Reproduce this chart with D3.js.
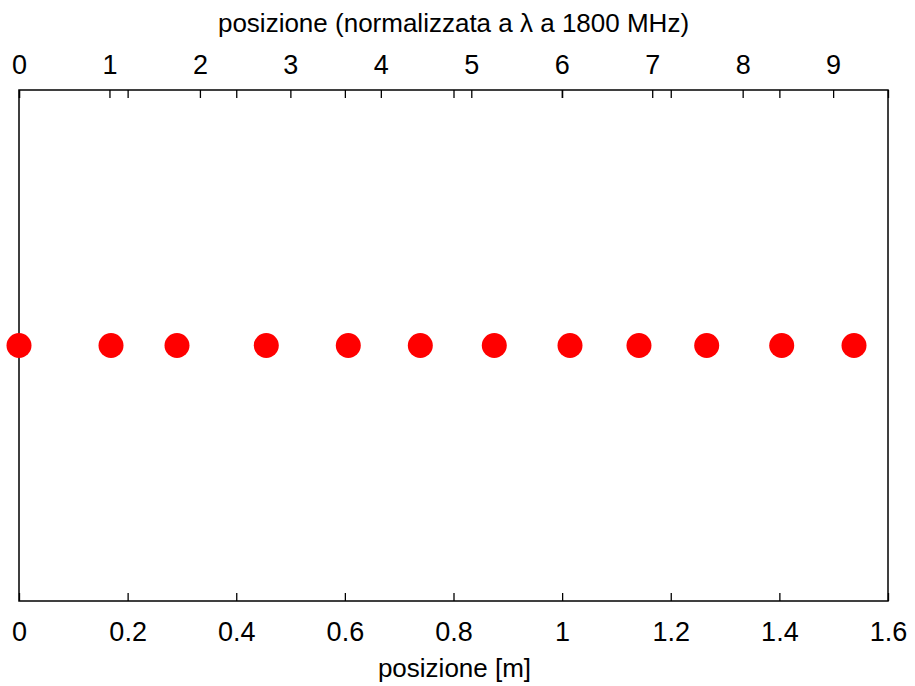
<!DOCTYPE html>
<html>
<head>
<meta charset="utf-8">
<script src="https://cdn.jsdelivr.net/npm/d3@7"></script>
<style>
  body { margin: 0; background: #fff; }
  text { font-family: "Liberation Sans", Arial, sans-serif; fill: #000; }
</style>
</head>
<body>
<svg width="915" height="686"></svg>
<script>
// positions of the measurement points [m]
const positions = [0, 0.1694, 0.2909, 0.4553, 0.6063, 0.7389, 0.8751, 1.0145, 1.1415, 1.2662, 1.4043, 1.5374];
const levels = [0, 0, 0, 0, 0, 0, 0, 0, 0, 0, 0, 0];

const bottomTicks = [0, 0.2, 0.4, 0.6, 0.8, 1, 1.2, 1.4, 1.6];
const topTicks = [0, 1, 2, 3, 4, 5, 6, 7, 8, 9];

const lambda = 299792458 / 1800e6;   // wavelength at 1800 MHz
const xLabel = "posizione [m]";
const x2Label = "posizione (normalizzata a \u03bb a 1800 MHz)";

const fontSize = 26;
const margin = {left: 19, right: 27, top: 90, bottom: 85};
const svg = d3.select("svg");
const width = +svg.attr("width") - margin.left - margin.right;
const height = +svg.attr("height") - margin.top - margin.bottom;

const x = d3.scaleLinear().domain([0, 1.6]).range([0, width]);
const x2 = d3.scaleLinear().domain([0, 1.6 / lambda]).range([0, width]);
const y = d3.scaleLinear().domain([-1, 1]).range([height, 0]);

const g = svg.append("g").attr("transform", `translate(${margin.left},${margin.top})`);

// bottom axis
g.append("g")
    .attr("transform", `translate(0,${height})`)
    .call(d3.axisBottom(x).tickValues(bottomTicks).tickSize(-8).tickPadding(21)
          .tickFormat(d3.format("")))
    .call(sel => sel.select(".domain").remove());

// top axis: mirrored x ticks, no labels
g.append("g")
    .call(d3.axisTop(x).tickValues(bottomTicks).tickSize(-8).tickFormat(""))
    .call(sel => sel.select(".domain").remove());

// top axis: x2 ticks with labels
g.append("g")
    .call(d3.axisTop(x2).tickValues(topTicks).tickSize(-8).tickPadding(16)
          .tickFormat(d3.format("")))
    .call(sel => sel.select(".domain").remove());

g.selectAll(".tick line").attr("stroke", "#000").attr("stroke-width", 1.3);
g.selectAll(".tick text").attr("font-size", 27).attr("font-family", null);

// border
g.append("rect")
    .attr("width", width)
    .attr("height", height)
    .attr("fill", "none")
    .attr("stroke", "#000")
    .attr("stroke-width", 1.5);

// points
g.selectAll("circle.pt")
  .data(positions)
  .enter().append("circle")
    .attr("class", "pt")
    .attr("cx", d => x(d))
    .attr("cy", (d, i) => y(levels[i]))
    .attr("r", 12.5)
    .attr("fill", "#ff0000");

// axis titles
svg.append("text")
    .attr("x", margin.left + width / 2 + 1)
    .attr("y", 677)
    .attr("text-anchor", "middle")
    .attr("font-size", fontSize)
    .text(xLabel);

svg.append("text")
    .attr("x", margin.left + width / 2)
    .attr("y", 32)
    .attr("text-anchor", "middle")
    .attr("font-size", fontSize)
    .text(x2Label);
</script>
</body>
</html>
